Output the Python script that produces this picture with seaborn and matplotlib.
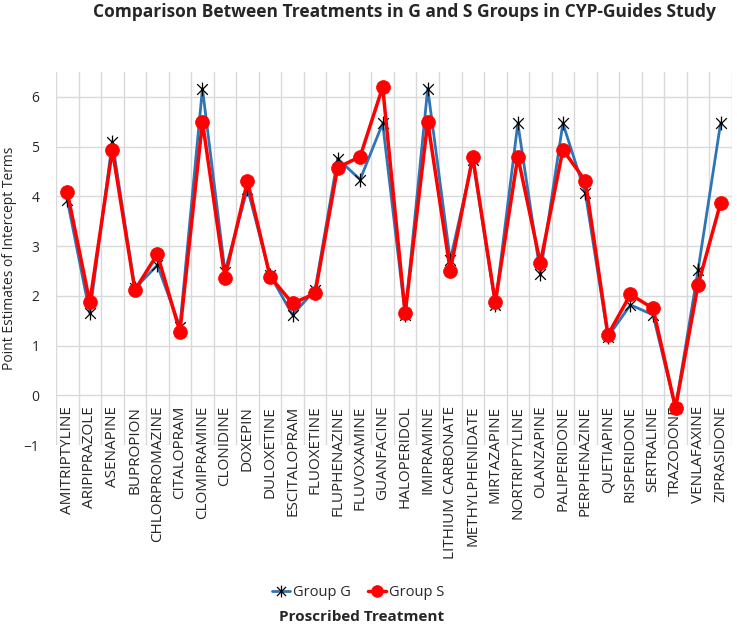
import numpy as np
import pandas as pd
import matplotlib as mpl
import matplotlib.pyplot as plt
from matplotlib.path import Path
import seaborn as sns

mpl.use('Agg')

treatments = ["AMITRIPTYLINE", "ARIPIPRAZOLE", "ASENAPINE", "BUPROPION", "CHLORPROMAZINE",
              "CITALOPRAM", "CLOMIPRAMINE", "CLONIDINE", "DOXEPIN", "DULOXETINE",
              "ESCITALOPRAM", "FLUOXETINE", "FLUPHENAZINE", "FLUVOXAMINE", "GUANFACINE",
              "HALOPERIDOL", "IMIPRAMINE", "LITHIUM CARBONATE", "METHYLPHENIDATE", "MIRTAZAPINE",
              "NORTRIPTYLINE", "OLANZAPINE", "PALIPERIDONE", "PERPHENAZINE", "QUETIAPINE",
              "RISPERIDONE", "SERTRALINE", "TRAZODONE", "VENLAFAXINE", "ZIPRASIDONE"]

group_g = [3.93, 1.65, 5.10, 2.15, 2.62, 1.38, 6.17, 2.49, 4.16, 2.42,
           1.62, 2.12, 4.76, 4.34, 5.47, 1.62, 6.17, 2.72, 4.74, 1.82,
           5.47, 2.45, 5.47, 4.06, 1.18, 1.82, 1.62, -0.25, 2.52, 5.47]

group_s = [4.09, 1.87, 4.94, 2.12, 2.84, 1.28, 5.50, 2.37, 4.31, 2.39,
           1.85, 2.05, 4.58, 4.80, 6.20, 1.65, 5.50, 2.51, 4.80, 1.87,
           4.80, 2.66, 4.94, 4.31, 1.22, 2.03, 1.75, -0.25, 2.22, 3.87]

y_ticks = [-1, 0, 1, 2, 3, 4, 5, 6]

sns.set_style("white")
plt.rcParams['font.family'] = ['Open Sans', 'DejaVu Sans']

df = pd.DataFrame({"treatment": treatments, "G": group_g, "S": group_s})

# Excel-style "star" marker: an X with a vertical bar through it
star = Path([(-1, -1), (1, 1), (-1, 1), (1, -1), (0, -1.3), (0, 1.3)],
            [Path.MOVETO, Path.LINETO, Path.MOVETO, Path.LINETO, Path.MOVETO, Path.LINETO])

fig = plt.figure(figsize=(7.37, 6.27), dpi=100)
ax = fig.add_axes([0.076, 0.290, 0.917, 0.595])

sns.lineplot(data=df, x="treatment", y="G", ax=ax, sort=False, color="#2E75B6", lw=2,
             marker=star, markersize=10, mec="black", mew=0.9, mfc="none",
             label="Group G", zorder=3)
sns.lineplot(data=df, x="treatment", y="S", ax=ax, sort=False, color="#FF0000", lw=2.5,
             marker="o", markersize=10, mec="#FF0000", mew=0.5, mfc="#FF0000",
             label="Group S", zorder=4)

ax.set_xlim(-0.5, len(treatments) - 0.5)
ax.set_ylim(-1, 6.5)
ax.set_yticks(y_ticks)
ax.set_xticks(range(len(treatments)))
ax.set_xticklabels([])
ax.set_xticks(np.arange(-0.5, len(treatments), 1), minor=True)
ax.tick_params(axis='both', which='both', length=0)
ax.tick_params(axis='y', labelsize=10, pad=12)
ax.grid(axis='y', which='major', color='#D9D9D9', lw=1)
ax.grid(axis='x', which='minor', color='#D9D9D9', lw=1)
ax.set_axisbelow(True)
for sp in ax.spines.values():
    sp.set_visible(False)

# category labels hang just under the zero line, like Excel does
for i, name in enumerate(treatments):
    ax.annotate(name, xy=(i, 0), xytext=(0, -7.5), textcoords='offset points',
                rotation=90, ha='center', va='top', fontsize=11,
                annotation_clip=False, zorder=2,
                bbox=dict(boxstyle='square,pad=0.05', fc='white', ec='none'))

ax.set_xlabel("")
ax.set_ylabel("Point Estimates of Intercept Terms", fontsize=10)
ax.yaxis.set_label_coords(-0.058, 0.5)

ax.legend(loc='center', bbox_to_anchor=(0.447, -0.394), ncol=2, frameon=False,
          fontsize=10.5, handlelength=1.2, columnspacing=1.2, handletextpad=0.2,
          markerscale=0.85)

fig.text(0.549, 0.981, "Comparison Between Treatments in G and S Groups in CYP-Guides Study",
         ha='center', va='center', fontsize=12.5, fontweight='bold')
fig.text(0.49, 1 - 617 / 627, "Proscribed Treatment", ha='center', va='center',
         fontsize=11, fontweight='bold')

fig.savefig("out.png", dpi=100)
